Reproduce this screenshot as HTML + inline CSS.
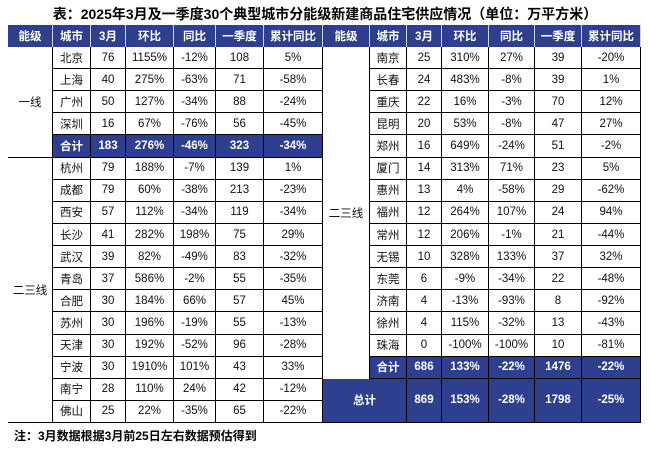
<!DOCTYPE html>
<html><head><meta charset="utf-8">
<style>
body{margin:0;background:#fff;width:650px;height:473px;overflow:hidden;position:relative;font-family:"Liberation Sans","Noto Sans CJK SC",sans-serif;}
.c{position:absolute;box-sizing:border-box;display:flex;align-items:center;justify-content:center;font-size:11.5px;color:#111;}
.h{background:#2f3f8f;color:#fff;font-weight:bold;border-right:1px solid #cfd3e6;}
.t{background:#2f3f8f;color:#fff;font-weight:bold;}
.b{border-right:1px solid #000;border-bottom:1px solid #000;}
#title{position:absolute;left:0;width:650px;top:4px;text-align:center;font-weight:bold;font-size:14px;font-family:"Liberation Sans","Noto Sans CJK SC",sans-serif;}
#note{position:absolute;left:14px;top:427px;font-weight:bold;font-size:12px;}
</style></head><body>
<div id="title">表：2025年3月及一季度30个典型城市分能级新建商品住宅供应情况（单位：万平方米）</div>
<div id="note">注：3月数据根据3月前25日左右数据预估得到</div>
<script>
const headers=["能级","城市","3月","环比","同比","一季度","累计同比"];
const leftTier1=[["北京","76","1155%","-12%","108","5%"],["上海","40","275%","-63%","71","-58%"],["广州","50","127%","-34%","88","-24%"],["深圳","16","67%","-76%","56","-45%"]];
const leftTier1Total=["合计","183","276%","-46%","323","-34%"];
const leftTier2=[["杭州","79","188%","-7%","139","1%"],["成都","79","60%","-38%","213","-23%"],["西安","57","112%","-34%","119","-34%"],["长沙","41","282%","198%","75","29%"],["武汉","39","82%","-49%","83","-32%"],["青岛","37","586%","-2%","55","-35%"],["合肥","30","184%","66%","57","45%"],["苏州","30","196%","-19%","55","-13%"],["天津","30","192%","-52%","96","-28%"],["宁波","30","1910%","101%","43","33%"],["南宁","28","110%","24%","42","-12%"],["佛山","25","22%","-35%","65","-22%"]];
const rightTier2=[["南京","25","310%","27%","39","-20%"],["长春","24","483%","-8%","39","1%"],["重庆","22","16%","-3%","70","12%"],["昆明","20","53%","-8%","47","27%"],["郑州","16","649%","-24%","51","-2%"],["厦门","14","313%","71%","23","5%"],["惠州","13","4%","-58%","29","-62%"],["福州","12","264%","107%","24","94%"],["常州","12","206%","-1%","21","-44%"],["无锡","10","328%","133%","37","32%"],["东莞","6","-9%","-34%","22","-48%"],["济南","4","-13%","-93%","8","-92%"],["徐州","4","115%","-32%","13","-43%"],["珠海","0","-100%","-100%","10","-81%"]];
const tier2Total=["合计","686","133%","-22%","1476","-22%"];
const grandTotal=["总计","869","153%","-28%","1798","-25%"];
const LX=[8,53,91,126,174,216,264,323], RX=[323,370,407,442,489,535,582,641];
const Y0=25,HH=22,RH=22.12;
function ry(i){return 47+RH*i;}
function cell(x,y,w,h,txt,cls,name){
  const d=document.createElement('div');
  d.className='c '+cls;
  d.style.left=x+'px';d.style.top=y+'px';d.style.width=w+'px';d.style.height=h+'px';
  d.textContent=txt;
  
  
  document.body.appendChild(d);return d;
}
function row(X,i,vals,cls,prefix){
  for(let k=0;k<vals.length;k++){
    cell(X[k+1],ry(i),X[k+2]-X[k+1],ry(i+1)-ry(i),vals[k],cls,prefix+'-'+k);
  }
}
[LX,RX].forEach((X,s)=>{for(let k=0;k<7;k++)cell(X[k],Y0,X[k+1]-X[k],HH,headers[k],'h',(s?'right':'left')+'-header-'+k);});
leftTier1.forEach((r,i)=>row(LX,i,r,'b','left-row-'+r[0]));
row(LX,4,leftTier1Total,'t b','tier1-total');
leftTier2.forEach((r,i)=>row(LX,5+i,r,'b','left-row-'+r[0]));
rightTier2.forEach((r,i)=>row(RX,i,r,'b','right-row-'+r[0]));
row(RX,14,tier2Total,'t b','tier2-total');
let a=cell(LX[0],ry(0),LX[1]-LX[0],ry(5)-ry(0),'一线','','tier1-label');a.style.borderRight='1px solid #000';a.style.borderBottom='1px solid #000';
a=cell(LX[0],ry(5),LX[1]-LX[0],ry(17)-ry(5),'二三线','','tier2-label-left');a.style.borderRight='1px solid #000';a.style.borderBottom='1px solid #000';
a=cell(RX[0],ry(0),RX[1]-RX[0],ry(15)-ry(0),'二三线','','tier2-label-right');a.style.borderRight='1px solid #000';
const g=cell(RX[0],ry(15),RX[2]-RX[0],ry(17)-ry(15),grandTotal[0],'t b','grand-total-label');
for(let k=1;k<6;k++)cell(RX[k+1],ry(15),RX[k+2]-RX[k+1],ry(17)-ry(15),grandTotal[k],'t b','grand-total-'+k);
</script>
</body></html>
